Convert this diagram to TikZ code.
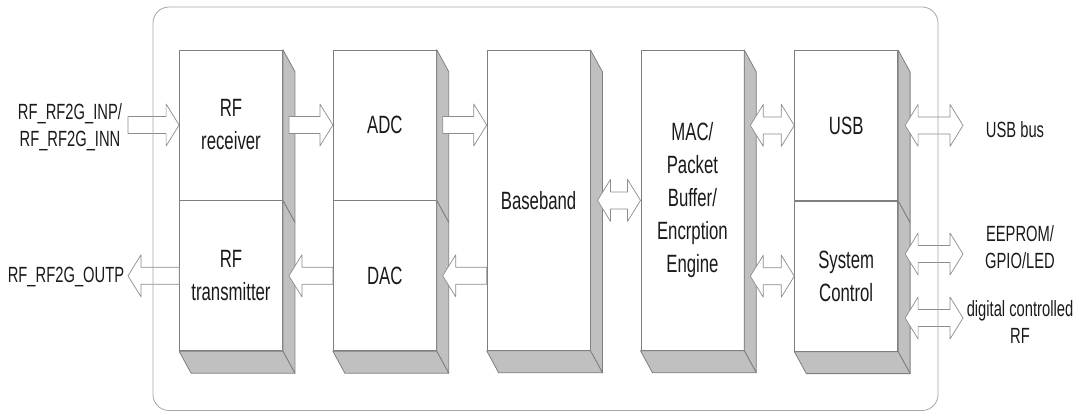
\documentclass[tikz,border=0pt]{standalone}
\usepackage{fontspec}
\setmainfont{Liberation Sans}[FakeStretch=0.67]
\usepackage{tikz}
\usetikzlibrary{positioning, calc}

\definecolor{edge}{HTML}{7F7F7F}
\definecolor{sidegray}{HTML}{C0C0C0}
\definecolor{arrowline}{HTML}{8C8C8C}
\definecolor{framegray}{HTML}{A6A6A6}
\definecolor{ink}{HTML}{1A1A1A}

\begin{document}
\begin{tikzpicture}[
    x=1pt, y=-1pt,
    face/.style     = {draw=edge, fill=white, line width=0.8pt, minimum width=103pt,
                       minimum height=150pt, inner sep=0pt, align=center, text=ink,
                       font=\fontsize{25}{33}\selectfont},
    tall/.style     = {face, minimum height=300pt},
    sideface/.style = {draw=edge, fill=sidegray, line width=0.8pt, line join=round},
    pinlbl/.style   = {align=center, text=ink, inner sep=0pt, font=\fontsize{22}{27}\selectfont},
    fat/.style      = {draw=arrowline, fill=white, line width=0.7pt, line join=round,
      to path={let \p1=(\tikztostart), \p2=(\tikztotarget), \n1={sign(\x2-\x1)} in
        (\x1,\y1+8.5pt) -- (\x2-\n1*13pt,\y1+8.5pt) -- (\x2-\n1*13pt,\y1+21pt) -- (\x2,\y1)
        -- (\x2-\n1*13pt,\y1-21pt) -- (\x2-\n1*13pt,\y1-8.5pt) -- (\x1,\y1-8.5pt) -- cycle}},
    fatboth/.style  = {draw=arrowline, fill=white, line width=0.7pt, line join=round,
      to path={let \p1=(\tikztostart), \p2=(\tikztotarget), \n1={sign(\x2-\x1)} in
        (\x1,\y1) -- (\x1+\n1*13pt,\y1+21pt) -- (\x1+\n1*13pt,\y1+8.5pt)
        -- (\x2-\n1*13pt,\y1+8.5pt) -- (\x2-\n1*13pt,\y1+21pt) -- (\x2,\y1)
        -- (\x2-\n1*13pt,\y1-21pt) -- (\x2-\n1*13pt,\y1-8.5pt)
        -- (\x1+\n1*13pt,\y1-8.5pt) -- (\x1+\n1*13pt,\y1-21pt) -- cycle}},
    node distance = 50pt
]
\useasboundingbox (0,0) rectangle (1076,412);

% front faces of the blocks
\node[face] (rx) at (231,125) {RF\\receiver};
\node[face, below=0pt of rx]    (tx)  {RF\\transmitter};
\node[face, right=of rx]        (adc) {ADC};
\node[face, below=0pt of adc]   (dac) {DAC};
\node[tall, right=of adc.south east] (bb)  {Baseband};
\node[tall, right=of bb]        (mac) {MAC/\\Packet\\Buffer/\\Encrption\\Engine};
\node[face, right=of mac.north east, anchor=north west] (usb) {USB};
\node[face, below=0pt of usb]   (sys) {System\\Control};

% extruded sides and bottoms
\foreach \n in {rx, tx, adc, dac, bb, mac, usb, sys}
  \draw[sideface] (\n.north east) -- ++(12,22) -- ($(\n.south east)+(12,22)$) -- (\n.south east) -- cycle;
\foreach \n in {tx, dac, bb, mac, sys}
  \draw[sideface] (\n.south west) -- ++(12,22) -- ($(\n.south east)+(12,22)$) -- (\n.south east) -- cycle;

% pins outside the chip
\node[pinlbl] (inlbl)  at (70,127)   {RF\_RF2G\_INP/\\RF\_RF2G\_INN};
\node[pinlbl] (outlbl) at (66,277)   {RF\_RF2G\_OUTP};
\node[pinlbl] (buslbl) at (1015,130) {USB bus};
\node[pinlbl] (romlbl) at (1020,247) {EEPROM/\\GPIO/LED};
\node[pinlbl] (rflbl)  at (1020,322) {digital controlled\\RF};
\coordinate (inend)  at (128,125);
\coordinate (outend) at (128,276);
\coordinate (busend) at (963,125);
\coordinate (romend) at (963,254);
\coordinate (rfend)  at (963,318);

% data paths
\draw[fat] (inend) to (rx.west);
\draw[fat] (tx.west) to (outend);
\draw[fat] ([xshift=6pt]rx.east) to (adc.west);
\draw[fat] (dac.west) to ([xshift=6pt]tx.east);
\draw[fat] ([xshift=6pt]adc.east) to (bb.west |- adc.east);
\draw[fat] (bb.west |- dac.east) to ([xshift=6pt]dac.east);
\draw[fatboth] ([xshift=7pt]bb.east) to (mac.west);
\draw[fatboth] ([xshift=6pt]mac.east |- usb.west) to (usb.west);
\draw[fatboth] ([xshift=6pt]mac.east |- sys.west) to (sys.west);
\draw[fatboth] ([xshift=7pt]usb.east) to (busend);
\draw[fatboth] ([xshift=7pt]sys.east |- romend) to (romend);
\draw[fatboth] ([xshift=7pt]sys.east |- rfend) to (rfend);

% chip outline
\draw[framegray, line width=0.8pt, rounded corners=16pt] (153,7) rectangle (938,410.5);
\end{tikzpicture}
\end{document}
